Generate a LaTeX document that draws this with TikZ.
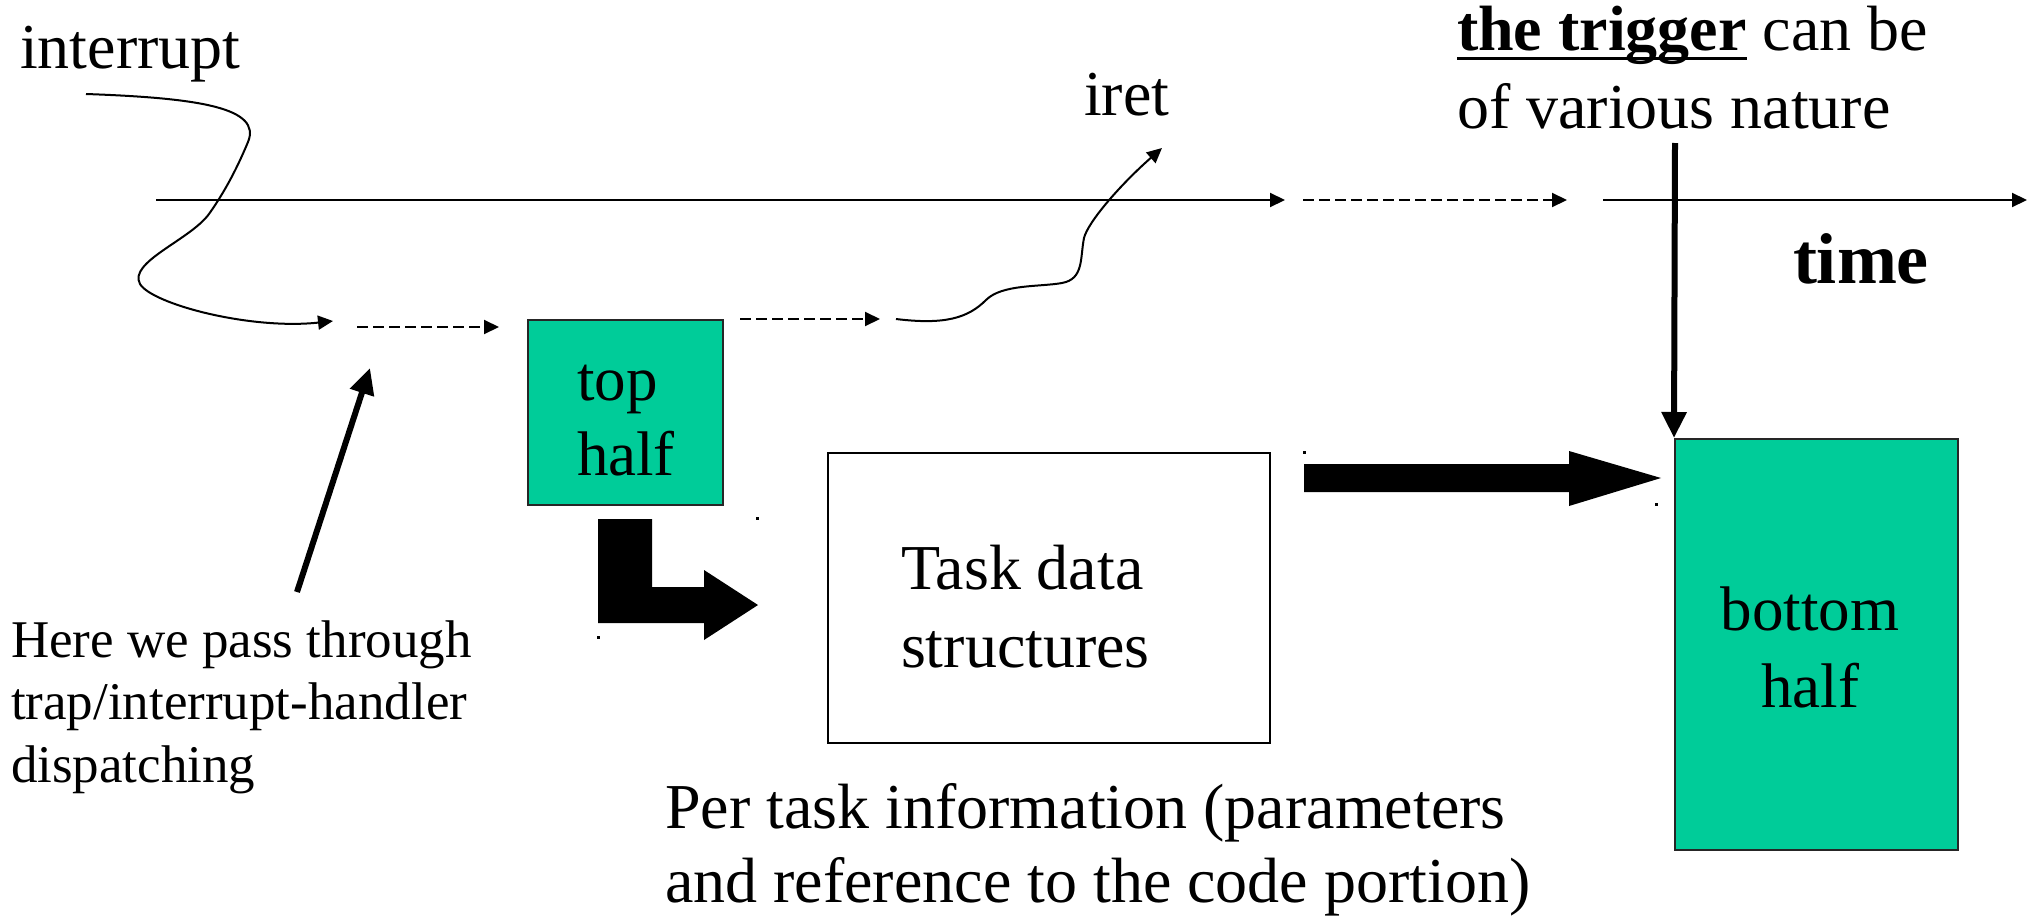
\documentclass[tikz,border=0pt]{standalone}
\usepackage{fontspec}
\setmainfont{Liberation Serif}
\usetikzlibrary{arrows.meta,calc}
\definecolor{tealgreen}{RGB}{0,204,153}
\newcommand\myul[1]{\setbox0\hbox{#1}\rlap{\rule[-10pt]{\wd0}{3.5pt}}\box0\relax}
\tikzset{
  lbl/.style={inner sep=0pt, outer sep=0pt, anchor=base west, align=left},
  thinarrow/.style={line width=2pt, -{Triangle[length=15pt,width=14pt]}},
  dasharrow/.style={thinarrow, dash pattern=on 11pt off 5pt},
  thickarrow/.style={line width=6pt, -{Triangle[length=26pt,width=24pt]}},
  greenbox/.style={draw=black!85, line width=2pt, fill=tealgreen, inner sep=0pt, anchor=north west},
  plainbox/.style={draw=black, line width=2pt, inner sep=0pt, anchor=north west},
  bigfont/.style={font=\fontsize{64}{77}\selectfont},
}
\begin{document}
\begin{tikzpicture}[x=1pt,y=-1pt]
\useasboundingbox (0,0) rectangle (2034,918);

% boxes
\node[greenbox, minimum width=195pt, minimum height=185pt] (th) at (527,319) {};
\node[greenbox, minimum width=283pt, minimum height=411pt] (bh) at (1674,438) {};
\node[plainbox, minimum width=442pt, minimum height=290pt] (task) at (827,452) {};

% texts (base anchor = baseline of the last line)
\node[lbl, font=\fontsize{63}{75}\selectfont] (thtext) at (577,475) {top\\half};
\node[inner sep=0pt, align=center, font=\fontsize{63}{77}\selectfont, anchor=base] (bhtext) at (1810,707) {bottom\\half};
\node[lbl, font=\fontsize{64}{78}\selectfont] (tasktext) at (901,667) {Task data\\structures};
\node[lbl, bigfont] (interrupt) at (20,68) {interrupt};
\node[lbl, bigfont] (iret) at (1084,115) {iret};
\node[lbl, font=\fontsize{64}{78}\selectfont] (trigger) at (1457,128) {\myul{\bfseries the trigger} can be\\of various nature};
\node[lbl, font=\fontsize{72}{80}\selectfont\bfseries] (time) at (1793,283) {time};
\node[lbl, font=\fontsize{53}{62.5}\selectfont] (here) at (11,782) {Here we pass through\\trap/interrupt-handler\\dispatching};
\node[lbl, font=\fontsize{64}{74}\selectfont] (pertask) at (665,902) {Per task information (parameters\\and reference to the code portion)};

% time axis
\coordinate (a0) at (156,200);
\coordinate (a1) at (1285,200);
\coordinate (a2) at (1303,200);
\coordinate (a3) at (1567,200);
\coordinate (a4) at (1603,200);
\coordinate (a5) at (2027,200);
\draw[thinarrow] (a0) -- (a1);
\draw[dasharrow] (a2) -- (a3);
\draw[thinarrow] (a4) -- (a5);

% interrupt path
\coordinate (intStart) at (86,94);
\coordinate (intEnd) at (333,321);
\draw[thinarrow] (intStart) .. controls (200,98) and (262,108) .. (248,142)
  .. controls (238,166) and (226,190) .. (209,214)
  .. controls (190,240) and (128,262) .. (140,284)
  .. controls (152,304) and (250,330) .. (intEnd);

\coordinate (d1s) at (357,327);
\coordinate (d1e) at (499,327);
\draw[dasharrow] (d1s) -- (d1e);
\coordinate (d2s) at ($(th.north east)+(16,0)$);
\coordinate (d2e) at (880,319);
\draw[dasharrow] (d2s) -- (d2e);

% iret path
\coordinate (iretStart) at (896,319);
\coordinate (iretEnd) at (1162,148);
\draw[thinarrow] (iretStart) .. controls (945,325) and (968,318) .. (986,300)
  .. controls (1002,284) and (1040,287) .. (1062,283)
  .. controls (1084,279) and (1080,258) .. (1084,238)
  .. controls (1088,222) and (1120,185) .. (iretEnd);

% thick arrows
\coordinate (hereStart) at (297,592);
\coordinate (hereEnd) at (370,368);
\draw[thickarrow] (hereStart) -- (hereEnd);
\coordinate (trigStart) at (1675,143);
\draw[thickarrow] (trigStart) -- (bh.north west);

% block arrows
\fill ($(th.south west)+(71,13)$) -- ++(54,0) -- ++(0,68) -- ++(52,0) -- ++(0,-17)
  -- ++(54,35) -- ++(-54,35) -- ++(0,-17) -- ++(-106,0) -- cycle;
\fill ($(task.north east)+(33,12)$) -- ++(265,0) -- ++(0,-13) -- ++(92,27)
  -- ++(-92,28) -- ++(0,-14) -- ++(-265,0) -- cycle;

% tiny corner dots
\fill (756,517) rectangle ++(2.5,2.5);
\fill (597,636) rectangle ++(2.5,2.5);
\fill (1303,451) rectangle ++(2.5,2.5);
\fill (1655,503) rectangle ++(2.5,2.5);
\end{tikzpicture}
\end{document}
